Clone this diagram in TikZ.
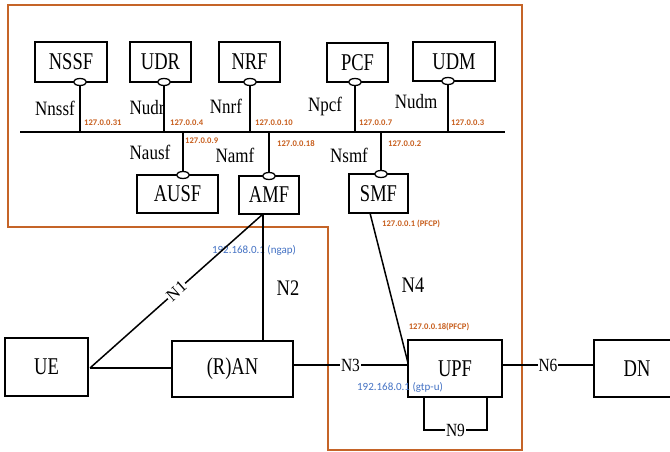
\documentclass[tikz,border=0pt]{standalone}
\usepackage{fontspec}
\setmainfont{Liberation Serif}
\newfontfamily\calfont{Carlito}
\usepackage{graphicx}
\usetikzlibrary{shapes.geometric}
\definecolor{borange}{RGB}{197,100,40}
\definecolor{tagor}{RGB}{200,95,30}
\definecolor{ipblue}{RGB}{68,114,196}
\newcommand{\stt}[2][1.3]{\scalebox{1}[#1]{#2}}
\begin{document}
\begin{tikzpicture}[x=1pt,y=-1pt,
  nf/.style={draw, line width=1.5pt, inner sep=0pt, fill=white, font=\fontsize{18.5}{20}\selectfont},
  port/.style={draw, ellipse, fill=white, line width=1.3pt, minimum width=13pt, minimum height=7pt, inner sep=0pt},
  conn/.style={line width=1.5pt},
  busline/.style={line width=2.2pt},
  ifl/.style={font=\fontsize{17}{18}\selectfont, inner sep=0pt},
  refl/.style={font=\fontsize{18.5}{20}\selectfont, inner sep=0pt},
  onl/.style={font=\fontsize{15.5}{17}\selectfont, fill=white, inner sep=1pt},
  tag/.style={font=\calfont\bfseries\fontsize{8.6}{9}\selectfont, text=tagor, inner sep=0pt},
  ip/.style={font=\calfont\fontsize{11}{12}\selectfont, text=ipblue, inner sep=0pt}]
\useasboundingbox (0,0) rectangle (670,452);
\clip (0,0) rectangle (670,452);
\fill[white] (0,0) rectangle (670,452);

% orange border
\draw[borange, line width=2pt, line join=miter] (8,5) -- (522,5) -- (522,450) -- (328,450) -- (328,227) -- (8,227) -- cycle;

% bus
\coordinate (busL) at (20,132);
\coordinate (busR) at (505,132);
\draw[busline] (busL) -- (busR);

% top NFs
\node[nf, minimum width=72pt, minimum height=40pt] (nssf) at (71,62) {\stt{NSSF}};
\node[nf, minimum width=61pt, minimum height=40pt] (udr) at (160.5,62) {\stt{UDR}};
\node[nf, minimum width=61pt, minimum height=40pt] (nrf) at (249.5,62) {\stt{NRF}};
\node[nf, minimum width=61pt, minimum height=39pt] (pcf) at (357.5,62.5) {\stt{PCF}};
\node[nf, minimum width=82pt, minimum height=39pt] (udm) at (454,61.5) {\stt{UDM}};

% lower NFs
\node[nf, minimum width=81pt, minimum height=38pt] (ausf) at (177.5,194) {\stt{AUSF}};
\node[nf, minimum width=60pt, minimum height=38pt] (amf) at (269,195) {\stt{AMF}};
\node[nf, minimum width=59pt, minimum height=39pt] (smf) at (378.5,193.5) {\stt{SMF}};

% bottom
\node[nf, minimum width=83pt, minimum height=58pt] (ue) at (46.5,367) {\stt{UE}};
\node[nf, minimum width=121pt, minimum height=56pt] (ran) at (232.5,369) {\stt{(R)AN}};
\node[nf, minimum width=94pt, minimum height=57pt] (upf) at (455,368.5) {\stt{UPF}};
\node[nf, minimum width=86pt, minimum height=57pt] (dn) at (637,368.5) {\stt{DN}};

% ports and service links
\node[port] (pnssf) at (80,82) {};
\node[port] (pudr) at (164,82) {};
\node[port] (pnrf) at (250,82) {};
\node[port] (ppcf) at (355,82) {};
\node[port] (pudm) at (448,81) {};
\node[port] (pausf) at (183,175) {};
\node[port] (pamf) at (269,176) {};
\node[port] (psmf) at (381,174) {};
\foreach \p in {pnssf,pudr,pnrf,ppcf,pudm}
  \draw[conn] (\p.south) -- (\p.south |- busL);
\foreach \p in {pausf,pamf,psmf}
  \draw[conn] (\p.north) -- (\p.north |- busL);

% interface labels
\node[ifl] (lnssf) at (55,108) {\stt[1.2]{Nnssf}};
\node[ifl] (lnudr) at (147,108) {\stt[1.2]{Nudr}};
\node[ifl] (lnnrf) at (226,106) {\stt[1.2]{Nnrf}};
\node[ifl] (lnpcf) at (325,106) {\stt[1.2]{Npcf}};
\node[ifl] (lnudm) at (416,102) {\stt[1.2]{Nudm}};
\node[ifl] (lnausf) at (150,152) {\stt[1.2]{Nausf}};
\node[ifl] (lnamf) at (235,155) {\stt[1.2]{Namf}};
\node[ifl] (lnsmf) at (349,155) {\stt[1.2]{Nsmf}};

% orange address tags
\node[tag, anchor=west] (t1) at (84,123) {127.0.0.31};
\node[tag, anchor=west] (t2) at (170,123) {127.0.0.4};
\node[tag, anchor=west] (t3) at (255,123) {127.0.0.10};
\node[tag, anchor=west] (t4) at (359,123) {127.0.0.7};
\node[tag, anchor=west] (t5) at (451,123) {127.0.0.3};
\node[tag, anchor=west] (t6) at (185,141) {127.0.0.9};
\node[tag, anchor=west] (t7) at (277,144) {127.0.0.18};
\node[tag, anchor=west] (t8) at (388,144) {127.0.0.2};
\node[tag, anchor=west] (t9) at (382,224) {127.0.0.1 (PFCP)};
\node[tag] (t10) at (439,327) {127.0.0.18(PFCP)};

% blue addresses
\node[ip] (i1) at (254,250) {192.168.0.1 (ngap)};
\node[ip] (i2) at (400,387) {192.168.0.1 (gtp-u)};

% reference point links
\coordinate (uep) at (90,368);
\coordinate (amfb) at (263,214);
\coordinate (smfb) at (370,213);
\coordinate (upfp) at (408,363);
\draw[conn] (uep) -- node[onl, sloped, pos=0.5, font=\fontsize{17}{18}\selectfont] {N1} (amfb);
\draw[conn] (amfb) -- (amfb |- ran.north);
\draw[conn] (uep) -- (ran.west |- uep);
\draw[conn] (ran.east |- 0,365) -- node[onl, pos=0.5] {\stt[1.2]{N3}} (upf.west |- 0,365);
\draw[conn] (smfb) -- (upfp);
\draw[conn] (upf.east |- 0,365) -- node[onl, pos=0.5] {\stt[1.2]{N6}} (dn.west |- 0,365);
\draw[conn] (424,397) -- (424,430) -- node[onl, pos=0.5] {\stt[1.2]{N9}} (487,430) -- (487,397);
\node[refl] (ln2) at (288,288) {\stt[1.2]{N2}};
\node[refl] (ln4) at (413,285) {\stt[1.2]{N4}};
\end{tikzpicture}
\end{document}
